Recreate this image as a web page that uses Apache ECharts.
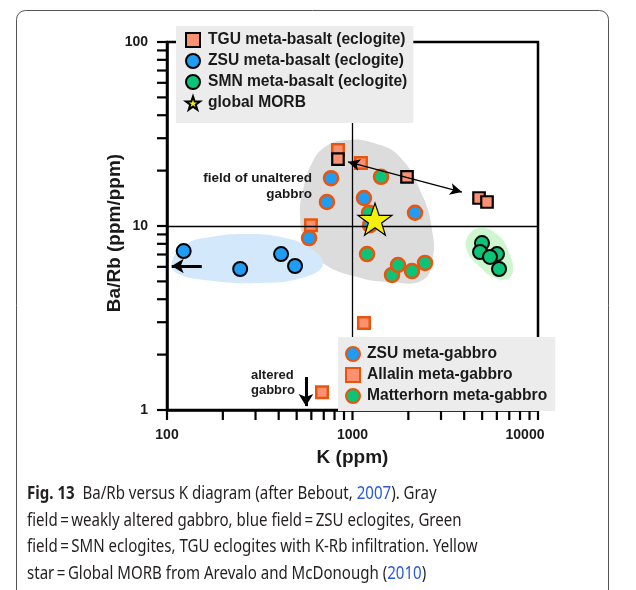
<!DOCTYPE html>
<html><head><meta charset="utf-8">
<script src="https://cdn.jsdelivr.net/npm/echarts@6/dist/echarts.min.js"></script>
<style>html,body{margin:0;padding:0;background:#fff}#c{width:636px;height:590px}</style>
</head><body><div id="c"></div>
<script>
// ---- tick positions ----
const xTicks = [100,200,300,400,500,600,700,800,900,1000,2000,3000,4000,5000,6000,7000,8000,9000,10000];
const yTicks = [1,2,3,4,5,6,7,8,9,10,20,30,40,50,60,70,80,90,100];

// ---- data: [K (ppm), Ba/Rb] ----
const tguBasalt = [[835,23.1],[1967,18.5],[4810,14.2],[5310,13.5]];
const zsuBasalt = [[123,7.31],[248,5.84],[412,7.04],[490,6.06]];
const smnBasalt = [[4990,8.08],[4870,7.22],[6010,7.04],[5510,6.79],[6165,5.84]];
const globalMorb = [[1322,10.9]];
const zsuGabbro = [[583,8.6],[766,18.2],[728,13.5],[1153,14.2],[2173,11.8],[1243,10.1]];
const allalinGabbro = [[835,25.9],[1111,22.0],[597,10.1],[1153,2.97],[685,1.25]];
const matterhornGabbro = [[1425,18.5],[1228,11.8],[1198,7.04],[1633,5.42],[1759,6.14],[2093,5.69],[2460,6.3]];

// ---- fields (outlines in data coords) ----
const grayField = [[934,29.3],[1290,28.3],[1803,23.7],[2399,14.4],[2683,9.51],[2716,6.79],[2399,5.09],[1593,4.96],[1058,5.28],[693,6.3],[555,8.39],[521,11.5],[541,15.7],[605,22.0],[711,26.9]];
const blueField = [[106,6.3],[125,7.88],[171,8.71],[280,9.05],[433,8.61],[590,7.6],[693,6.22],[555,5.28],[317,4.9],[160,5.09],[113,5.55]];
const greenField = [[4870,9.75],[6085,8.93],[6890,7.41],[7330,5.77],[6810,5.15],[5720,5.28],[4870,5.99],[4195,7.13],[4143,8.61]];

// ---- arrows ----
const tguArrow = [[946,22.3],[3892,15.3]];
const leftArrow = [[154,6.06],[106,6.06]];
const downArrow = [[561,1.51],[561,1.05]];

const FONT = '"Liberation Sans", Arial, Helvetica, sans-serif';
const CAP_FONT = '"Noto Sans", "Open Sans", sans-serif';
const STAR = 'path://M50,0 L61.8,35.1 L98.1,35.1 L68.8,56.8 L79.4,91 L50,70 L20.6,91 L31.2,56.8 L1.9,35.1 L38.2,35.1 Z';
const ORANGE_FILL = '#fb9171', ORANGE_LINE = '#e8560e', BLUE = '#1f9cf3', GREEN = '#0cc478';

function fieldSeries(pts, color) {
  return { type:'custom', silent:true, z:1, clip:false, data:[pts[0]],
    renderItem: (params, api) => ({ type:'polygon',
      shape:{ points: pts.map(p => api.coord(p)), smooth:0.45 }, style:{ fill: color } }) };
}

const chart = echarts.init(document.getElementById('c'), null, {renderer:'canvas'});
chart.setOption({
  animation:false,
  backgroundColor:'#fff',
  grid:{ left:167, top:42, right:98, bottom:180, show:true, borderColor:'#000', borderWidth:2.5, backgroundColor:'transparent' },
  xAxis:{ type:'log', logBase:10, min:100, max:10000,
    name:'K (ppm)', nameLocation:'middle', nameGap:38,
    nameTextStyle:{ fontFamily:FONT, fontWeight:'bold', fontSize:19, color:'#1a1a1a' },
    axisLine:{ lineStyle:{ color:'#000', width:2.5 } }, axisTick:{ show:false }, splitLine:{ show:false },
    axisLabel:{ fontFamily:FONT, fontWeight:'bold', fontSize:14, color:'#1a1a1a', margin:18,
      formatter: v => v >= 10000 ? '{r|' + v + '}' : String(v),
      rich:{ r:{ fontFamily:FONT, fontWeight:'bold', fontSize:14, color:'#1a1a1a', padding:[0,26,0,0] } } } },
  yAxis:{ type:'log', logBase:10, min:1, max:100,
    name:'Ba/Rb (ppm/ppm)', nameLocation:'middle', nameGap:43, nameMoveOverlap:false,
    nameTextStyle:{ fontFamily:FONT, fontWeight:'bold', fontSize:19, color:'#1a1a1a', padding:[0,14,0,0] },
    axisLine:{ lineStyle:{ color:'#000', width:2.5 } }, axisTick:{ show:false }, splitLine:{ show:false },
    axisLabel:{ fontFamily:FONT, fontWeight:'bold', fontSize:14, color:'#1a1a1a', margin:19 } },
  legend:[
    { data:['TGU meta-basalt (eclogite)','ZSU meta-basalt (eclogite)','SMN meta-basalt (eclogite)','global MORB'],
      orient:'vertical', left:176, top:26, padding:[6,6,12,9], itemGap:5, itemWidth:14, itemHeight:14,
      backgroundColor:'#ececec', selectedMode:false, z:10,
      textStyle:{ fontFamily:FONT, fontWeight:'bold', fontSize:15.6, color:'#1a1a1a', lineHeight:14, padding:[0,0,0,3] } },
    { data:['ZSU meta-gabbro','Allalin meta-gabbro','Matterhorn meta-gabbro'],
      orient:'vertical', left:338, top:337, padding:[9,8,7,7], itemGap:5, itemWidth:14, itemHeight:14,
      backgroundColor:'#ececec', selectedMode:false, z:10,
      textStyle:{ fontFamily:FONT, fontWeight:'bold', fontSize:15.6, color:'#1a1a1a', lineHeight:14, padding:[0,0,0,2] } }
  ],
  graphic:[
    { type:'rect', silent:true, z:-1, shape:{ x:16.5, y:10.5, width:592, height:620, r:9 }, style:{ fill:'none', stroke:'#555', lineWidth:1 } },
    { type:'text', silent:true, z:100, x:312, y:186, style:{ text:'field of unaltered\ngabbro', align:'right', verticalAlign:'middle', fill:'#1a1a1a', font:'bold 13.5px ' + FONT, lineHeight:16 } },
    { type:'text', silent:true, z:100, x:251, y:383, style:{ text:'altered\ngabbro', align:'left', verticalAlign:'middle', fill:'#1a1a1a', font:'bold 13px ' + FONT, lineHeight:15 } },
    { type:'text', silent:true, z:100, x:27, y:481, scaleX:0.86, style:{
      text:'{b|Fig. 13}  Ba/Rb versus K diagram (after Bebout, {l|2007}). Gray\nfield\u2009=\u2009weakly altered gabbro, blue field\u2009=\u2009ZSU eclogites, Green\nfield\u2009=\u2009SMN eclogites, TGU eclogites with K-Rb infiltration. Yellow\nstar\u2009=\u2009Global MORB from Arevalo and McDonough ({l|2010})',
      x:0, y:0, align:'left', verticalAlign:'top', fill:'#231f20', font:'17.5px ' + CAP_FONT, lineHeight:26.5,
      rich:{ b:{ fontWeight:'bold', fontSize:17.5, fontFamily:CAP_FONT, fill:'#231f20', lineHeight:26.5 },
             l:{ fontSize:17.5, fontFamily:CAP_FONT, fill:'#2a5bd7', lineHeight:26.5 } } } }
  ],
  series:[
    fieldSeries(grayField, '#dcdcdc'),
    fieldSeries(blueField, '#d3e8fb'),
    fieldSeries(greenField, '#cff7cf'),
    // ticks
    { type:'custom', silent:true, clip:false, z:3, data: xTicks.map(v => [v, 1]),
      renderItem:(p, api) => { const c = api.coord([api.value(0), 1]);
        return { type:'line', shape:{ x1:c[0], y1:c[1], x2:c[0], y2:c[1] + 10 }, style:{ stroke:'#000', lineWidth:2.2 } }; } },
    { type:'custom', silent:true, clip:false, z:3, data: yTicks.map(v => [100, v]),
      renderItem:(p, api) => { const c = api.coord([100, api.value(1)]);
        return { type:'line', shape:{ x1:c[0], y1:c[1], x2:c[0] - 10, y2:c[1] }, style:{ stroke:'#000', lineWidth:2.2 } }; } },
    // reference lines
    { type:'scatter', data:[], silent:true, z:2,
      markLine:{ silent:true, animation:false, symbol:['none','none'], label:{ show:false },
        lineStyle:{ color:'#000', width:1.3, type:'solid' },
        data:[ { xAxis:1000 }, { yAxis:10 } ] } },
    { name:'Allalin meta-gabbro', type:'scatter', data:allalinGabbro, symbol:'rect', symbolSize:11.5, z:3,
      itemStyle:{ color:ORANGE_FILL, borderColor:ORANGE_LINE, borderWidth:2.5, opacity:1 } },
    // arrows
    { type:'scatter', data:[], silent:true, z:3,
      markLine:{ silent:true, animation:false, label:{ show:false }, symbol:['none','arrow'], symbolSize:12,
        lineStyle:{ color:'#000', width:3, type:'solid' },
        data:[
          [ { coord:tguArrow[0], symbol:'arrow', symbolSize:[9,12], lineStyle:{ width:1.3, color:'#000' } }, { coord:tguArrow[1], symbol:'arrow', symbolSize:[9,12] } ],
          [ { coord:leftArrow[0], symbol:'none' }, { coord:leftArrow[1], symbol:'arrow', symbolSize:[11,12] } ],
          [ { coord:downArrow[0], symbol:'none' }, { coord:downArrow[1], symbol:'arrow', symbolSize:[11,12] } ]
        ] } },
    { name:'TGU meta-basalt (eclogite)', type:'scatter', data:tguBasalt, symbol:'rect', symbolSize:11.5, z:4,
      itemStyle:{ color:ORANGE_FILL, borderColor:'#000', borderWidth:2.2, opacity:1 } },
    { name:'ZSU meta-basalt (eclogite)', type:'scatter', data:zsuBasalt, symbol:'circle', symbolSize:14, z:4,
      itemStyle:{ color:BLUE, borderColor:'#000', borderWidth:2, opacity:1 } },
    { name:'ZSU meta-gabbro', type:'scatter', data:zsuGabbro, symbol:'circle', symbolSize:14, z:4,
      itemStyle:{ color:BLUE, borderColor:ORANGE_LINE, borderWidth:2.5, opacity:1 } },
    { name:'SMN meta-basalt (eclogite)', type:'scatter', data:smnBasalt, symbol:'circle', symbolSize:14, z:4,
      itemStyle:{ color:GREEN, borderColor:'#000', borderWidth:2, opacity:1 } },
    { name:'Matterhorn meta-gabbro', type:'scatter', data:matterhornGabbro, symbol:'circle', symbolSize:14, z:4,
      itemStyle:{ color:GREEN, borderColor:ORANGE_LINE, borderWidth:2.5, opacity:1 } },
    { name:'global MORB', type:'scatter', data:globalMorb, symbol:STAR, symbolSize:[34,32], z:5,
      itemStyle:{ color:'#f4f00c', borderColor:'#000', borderWidth:1.2, opacity:1 } }
  ]
});
</script></body></html>
